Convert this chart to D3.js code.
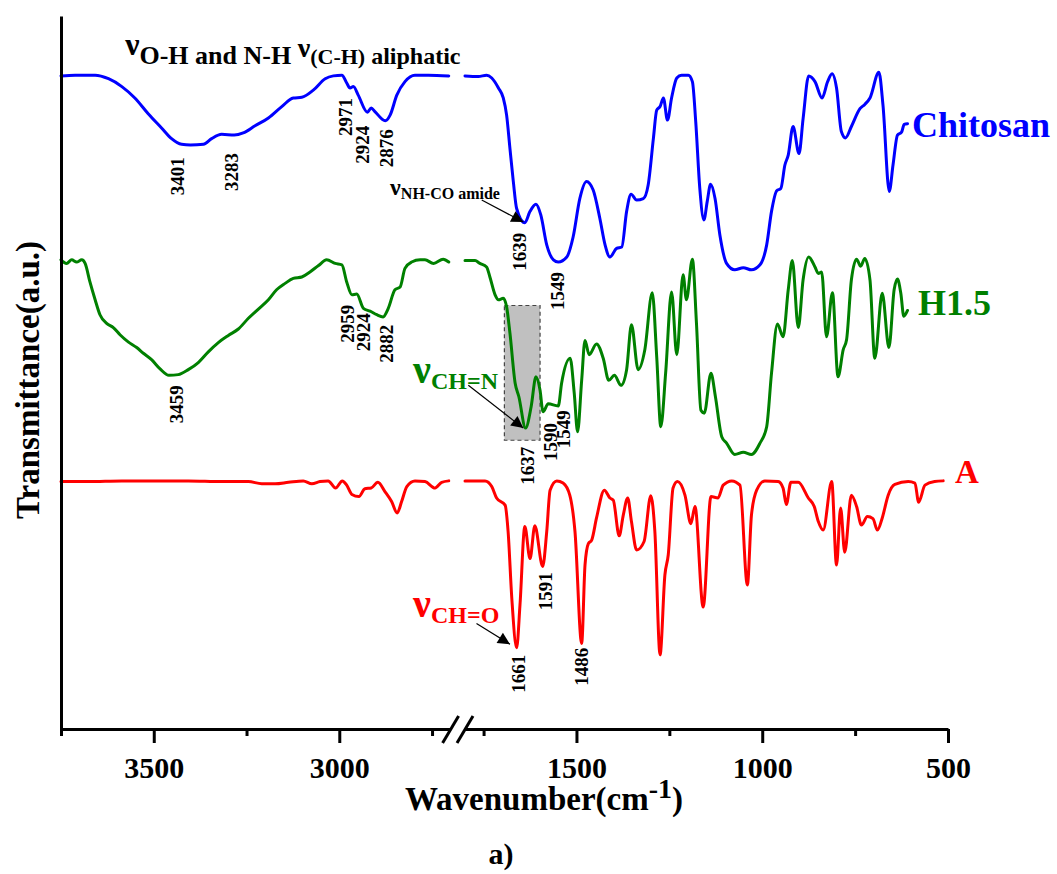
<!DOCTYPE html>
<html>
<head>
<meta charset="utf-8">
<script src="https://cdn.jsdelivr.net/npm/d3@7"></script>
<style>
  html, body { margin: 0; padding: 0; background: #fff; }
  svg text { font-family: "Liberation Serif", "Times New Roman", serif; font-weight: bold; }
</style>
</head>
<body>
<svg id="chart" width="1057" height="874"></svg>
<script>
// FTIR spectra: wavenumber (cm-1) vs transmittance (a.u., stacked), split axis 3750-2700 | 1800-500

const chitosanLeft = [[3750,91.6],[3712,91.7],[3658,91.7],[3622,91.2],[3586,90.1],[3551,88.5],[3515,86.3],[3479,84.3],[3452,82.8],[3425,82.0],[3401,81.9],[3366,82.0],[3344,82.8],[3317,83.4],[3283,83.3],[3259,83.6],[3227,84.6],[3191,85.7],[3155,87.3],[3124,88.5],[3101,88.6],[3070,89.6],[3038,91.2],[3016,91.6],[2993,91.7],[2980,90.6],[2971,89.9],[2962,90.1],[2949,88.9],[2924,86.5],[2914,87.1],[2904,86.6],[2876,85.3],[2863,86.1],[2845,88.9],[2823,90.8],[2796,91.7],[2760,91.7],[2705,91.6]];
const chitosanRight = [[1800,91.6],[1764,91.5],[1742,91.7],[1728,91.3],[1710,89.9],[1697,88.5],[1688,86.1],[1679,81.4],[1670,76.8],[1661,73.0],[1639,71.0],[1625,72.6],[1609,73.6],[1596,72.1],[1580,67.9],[1562,65.8],[1549,65.5],[1526,66.2],[1509,69.0],[1491,74.4],[1473,76.8],[1455,75.6],[1437,71.6],[1423,67.9],[1410,66.2],[1392,67.4],[1378,67.6],[1365,72.6],[1353,75.0],[1338,74.2],[1320,74.4],[1307,76.3],[1293,82.8],[1284,86.8],[1275,87.3],[1266,88.5],[1255,85.4],[1244,88.5],[1230,91.3],[1217,91.7],[1199,91.7],[1188,90.8],[1179,85.2],[1168,75.8],[1157,71.4],[1148,74.0],[1139,76.4],[1127,74.4],[1114,69.3],[1096,65.3],[1074,64.4],[1051,64.7],[1029,64.4],[1006,65.1],[988,67.9],[975,72.6],[961,75.5],[950,75.8],[939,79.1],[930,80.5],[917,84.5],[901,80.7],[890,85.6],[875,91.6],[858,90.8],[839,88.5],[824,90.8],[812,91.9],[800,89.9],[787,83.8],[776,82.9],[760,84.5],[737,87.0],[724,87.6],[710,88.5],[686,92.1],[675,87.5],[658,75.4],[648,79.1],[636,83.3],[625,83.7],[618,84.8],[609,84.9]];

const h15Left = [[3750,65.8],[3735,65.3],[3721,65.8],[3708,65.5],[3694,65.8],[3685,65.3],[3672,62.7],[3658,60.2],[3645,58.1],[3627,56.9],[3609,56.3],[3591,55.3],[3569,54.3],[3546,53.5],[3528,52.7],[3506,51.8],[3483,50.5],[3459,49.6],[3434,49.7],[3407,50.4],[3380,51.4],[3353,52.9],[3326,54.2],[3299,55.2],[3272,56.1],[3245,57.6],[3218,58.9],[3191,60.2],[3169,61.6],[3146,62.5],[3124,63.2],[3101,63.4],[3079,64.1],[3056,65.0],[3034,65.8],[3011,65.3],[2993,65.1],[2980,62.7],[2966,60.9],[2953,61.0],[2935,59.0],[2917,58.6],[2899,58.1],[2882,57.8],[2868,59.0],[2850,61.6],[2836,62.0],[2823,64.6],[2805,65.5],[2782,65.8],[2769,65.8],[2746,65.3],[2720,65.9],[2705,65.5]];
const h15Right = [[1800,65.7],[1773,65.7],[1760,65.3],[1742,64.8],[1733,63.4],[1719,60.9],[1710,60.2],[1697,60.4],[1688,59.2],[1679,55.5],[1665,48.5],[1655,46.6],[1637,42.2],[1622,45.2],[1609,49.4],[1598,47.5],[1590,44.5],[1576,45.6],[1549,45.3],[1540,48.5],[1517,52.0],[1506,47.1],[1497,41.7],[1486,48.9],[1477,54.5],[1466,52.5],[1446,54.0],[1428,52.0],[1413,48.9],[1398,49.6],[1380,48.2],[1365,50.4],[1352,56.7],[1334,50.4],[1316,53.2],[1296,61.2],[1284,52.2],[1273,42.4],[1260,49.9],[1244,61.3],[1230,52.5],[1213,63.7],[1204,60.2],[1188,65.9],[1177,56.9],[1165,44.7],[1156,44.3],[1138,49.9],[1126,46.6],[1109,41.0],[1096,40.1],[1074,38.5],[1051,38.8],[1029,38.5],[1006,40.1],[988,42.4],[975,49.9],[959,56.8],[944,55.0],[930,61.6],[919,65.7],[903,56.3],[890,63.0],[875,66.2],[858,64.8],[849,63.9],[840,64.1],[827,55.0],[811,61.2],[796,49.4],[782,53.2],[773,54.6],[760,63.0],[746,65.9],[735,64.9],[724,66.0],[710,63.0],[697,52.0],[677,61.1],[659,53.5],[645,61.6],[636,63.1],[627,61.1],[619,57.9],[609,58.7]];

const aLeft = [[3750,34.7],[3676,34.7],[3586,34.8],[3497,34.8],[3407,34.8],[3317,34.7],[3245,34.7],[3209,34.4],[3173,34.4],[3137,34.6],[3097,34.8],[3074,34.4],[3052,34.7],[3030,34.8],[3010,33.8],[2992,34.8],[2980,34.2],[2966,32.9],[2947,32.6],[2931,33.7],[2914,33.8],[2896,34.6],[2877,33.3],[2859,31.9],[2844,30.3],[2832,31.9],[2818,34.0],[2796,34.8],[2769,34.7],[2742,33.8],[2724,34.6],[2705,34.8]];
const aRight = [[1800,34.8],[1746,34.8],[1728,34.0],[1715,32.4],[1692,31.4],[1684,27.7],[1674,18.3],[1661,11.4],[1652,17.4],[1639,28.4],[1625,23.9],[1612,28.5],[1591,22.8],[1580,27.7],[1571,33.5],[1553,34.8],[1536,34.5],[1518,32.8],[1504,27.7],[1486,12.0],[1477,23.0],[1468,26.0],[1459,26.5],[1446,29.6],[1425,33.5],[1410,32.4],[1401,32.1],[1385,27.1],[1374,30.0],[1362,32.4],[1352,29.1],[1338,25.1],[1318,26.3],[1300,32.7],[1289,27.7],[1275,10.4],[1262,21.6],[1253,24.4],[1240,33.8],[1228,34.7],[1208,32.8],[1192,28.8],[1181,31.2],[1159,17.1],[1138,32.6],[1119,32.4],[1105,34.2],[1082,34.8],[1060,34.2],[1040,20.2],[1029,30.0],[1015,33.5],[993,34.8],[957,34.7],[944,33.8],[935,31.5],[923,34.6],[903,34.6],[876,32.4],[860,31.2],[849,29.1],[836,27.9],[813,34.7],[800,23.0],[789,31.0],[778,24.8],[760,32.8],[746,31.2],[733,28.6],[717,29.8],[702,29.5],[690,27.9],[677,29.6],[661,32.8],[643,34.3],[607,34.7],[589,34.5],[579,31.8],[562,34.2],[536,34.7],[513,34.8]];

const majorTicksLeft = [3500, 3000];
const minorTicksLeft = [3750, 3250, 2750];
const majorTicksRight = [1500, 1000, 500];
const minorTicksRight = [1750, 1250, 750];

// peak labels: [text, wavenumber of label, transmittance at label top]
const chitosanPeaks = [["3401",3436,80.2],["3283",3292,80.8],["2971",2985,88.5],["2924",2939,84.6],["2876",2874,84.1],["1639",1655,69.6],["1549",1552,64.1]];
const h15Peaks = [["3459",3440,48.2],["2959",2979,59.5],["2924",2936,58.3],["2882",2874,56.7],["1637",1633,39.6],["1590",1571,42.9],["1549",1534,44.7]];
const aPeaks = [["1661",1657,10.4],["1591",1585,22.0],["1486",1488,11.4]];

const seriesNames = ["Chitosan", "H1.5", "A"];
const seriesColors = ["#0000ff", "#008000", "#ff0000"];

const svg = d3.select("#chart");

const xL = d3.scaleLinear().domain([3750, 2700]).range([61, 450.6]);
const xR = d3.scaleLinear().domain([1800, 500]).range([465, 948]);
const y = d3.scaleLinear().domain([0, 100]).range([729, 16]);
const xOf = wn => (wn >= 2000 ? xL(wn) : xR(wn));

// shaded region around the imine band
svg.append("rect")
  .attr("x", xR(1694)).attr("y", y(59.4))
  .attr("width", xR(1598) - xR(1694)).attr("height", y(40.5) - y(59.4))
  .attr("fill", "#c0c0c0").attr("stroke", "#444").attr("stroke-width", 1.2)
  .attr("stroke-dasharray", "4,3");

const line = d3.line().x(d => xOf(d[0])).y(d => y(d[1])).curve(d3.curveMonotoneX);

const segs = [[chitosanLeft, chitosanRight], [h15Left, h15Right], [aLeft, aRight]];
segs.forEach((pair, i) => {
  pair.forEach(seg => {
    svg.append("path").attr("d", line(seg)).attr("fill", "none")
      .attr("stroke", seriesColors[i]).attr("stroke-width", 3)
      .attr("stroke-linejoin", "round").attr("stroke-linecap", "round");
  });
});

// axes
function styleAxis(g) {
  g.selectAll(".domain").attr("stroke", "#000").attr("stroke-width", 3);
  g.selectAll(".tick line").attr("stroke", "#000").attr("stroke-width", 3);
  g.selectAll(".tick text").attr("y", 49).attr("dy", 0)
    .style("font-size", "30px").attr("fill", "#000");
}
[[xL, majorTicksLeft, minorTicksLeft], [xR, majorTicksRight, minorTicksRight]].forEach(([sc, maj, min]) => {
  const gMaj = svg.append("g").attr("transform", `translate(0,${y(0)})`)
    .call(d3.axisBottom(sc).tickValues(maj).tickSize(14).tickSizeOuter(0).tickFormat(d3.format("d")));
  styleAxis(gMaj);
  const gMin = svg.append("g").attr("transform", `translate(0,${y(0)})`)
    .call(d3.axisBottom(sc).tickValues(min).tickSize(7).tickSizeOuter(0).tickFormat(""));
  styleAxis(gMin);
  gMin.select(".domain").remove();
});
const gy = svg.append("g").attr("transform", `translate(${xL(3750)},0)`)
  .call(d3.axisLeft(y).tickValues([]).tickSizeOuter(0));
styleAxis(gy);

// axis break marks
[xL(2700), xR(1800)].forEach(cx => {
  svg.append("line").attr("x1", cx - 8).attr("y1", y(0) + 14).attr("x2", cx + 8).attr("y2", y(0) - 13)
    .attr("stroke", "#000").attr("stroke-width", 3);
});

// axis titles
const xt = svg.append("text").attr("x", 544).attr("y", 810).attr("text-anchor", "middle")
  .style("font-size", "33px").attr("fill", "#000");
xt.append("tspan").text("Wavenumber(cm");
xt.append("tspan").attr("dy", -12).style("font-size", "28px").text("-1");
xt.append("tspan").attr("dy", 12).text(")");

svg.append("text").attr("transform", "translate(39,380) rotate(-90)").attr("text-anchor", "middle")
  .style("font-size", "33px").attr("fill", "#000").text("Transmittance(a.u.)");

svg.append("text").attr("x", 501).attr("y", 864).attr("text-anchor", "middle")
  .style("font-size", "30px").attr("fill", "#000").text("a)");

// series names
const nameAt = [[597, 83.0, "36px"], [581, 58.1, "36px"], [481, 34.5, "33px"]];
seriesNames.forEach((n, i) => {
  svg.append("text").attr("x", xR(nameAt[i][0])).attr("y", y(nameAt[i][1]))
    .style("font-size", nameAt[i][2]).attr("fill", seriesColors[i]).text(n);
});

// peak position labels (vertical)
[chitosanPeaks, h15Peaks, aPeaks].forEach(list => {
  list.forEach(([t, wn, T]) => {
    svg.append("text").attr("transform", `translate(${xOf(wn)},${y(T)}) rotate(-90)`)
      .attr("text-anchor", "end").attr("dy", "0.35em")
      .style("font-size", "19px").attr("fill", "#000").text(t);
  });
});

// band assignments
function nuLabel(wn, T, color, parts) {
  const t = svg.append("text").attr("x", xOf(wn)).attr("y", y(T)).attr("fill", color);
  parts.forEach(p => {
    const s = t.append("tspan").style("font-size", p.size).text(p.text);
    if (p.dy) s.attr("dy", p.dy);
  });
}
nuLabel(3577, 94.5, "#000", [
  { text: "ν", size: "32px" },
  { text: "O-H and N-H ", size: "26px", dy: 9 },
  { text: "ν", size: "28px", dy: -7 },
  { text: "(C-H)", size: "22px", dy: 7 },
  { text: " aliphatic", size: "24px" }
]);
nuLabel(2863, 74.9, "#000", [
  { text: "ν", size: "24px" },
  { text: "NH-CO amide", size: "16px", dy: 4 }
]);
nuLabel(2801, 48.5, "#008000", [
  { text: "ν", size: "40px" },
  { text: "CH=N", size: "24px", dy: 6 }
]);
nuLabel(2801, 15.7, "#ff0000", [
  { text: "ν", size: "40px" },
  { text: "CH=O", size: "24px", dy: 6 }
]);

// arrows
const defs = svg.append("defs");
defs.append("marker").attr("id", "head").attr("viewBox", "0 0 10 10")
  .attr("refX", 10).attr("refY", 5).attr("markerWidth", 16).attr("markerHeight", 12)
  .attr("markerUnits", "userSpaceOnUse").attr("orient", "auto")
  .append("path").attr("d", "M0,0 L10,5 L0,10 Z").attr("fill", "#000");
const arrows = [[1755, 74.2, 1643, 71.1], [1791, 48.2, 1643, 42.2], [1769, 14.8, 1679, 11.9]];
arrows.forEach(([w1, t1, w2, t2]) => {
  svg.append("line").attr("x1", xOf(w1)).attr("y1", y(t1)).attr("x2", xOf(w2)).attr("y2", y(t2))
    .attr("stroke", "#000").attr("stroke-width", 1.2).attr("marker-end", "url(#head)");
});
</script>
</body>
</html>
